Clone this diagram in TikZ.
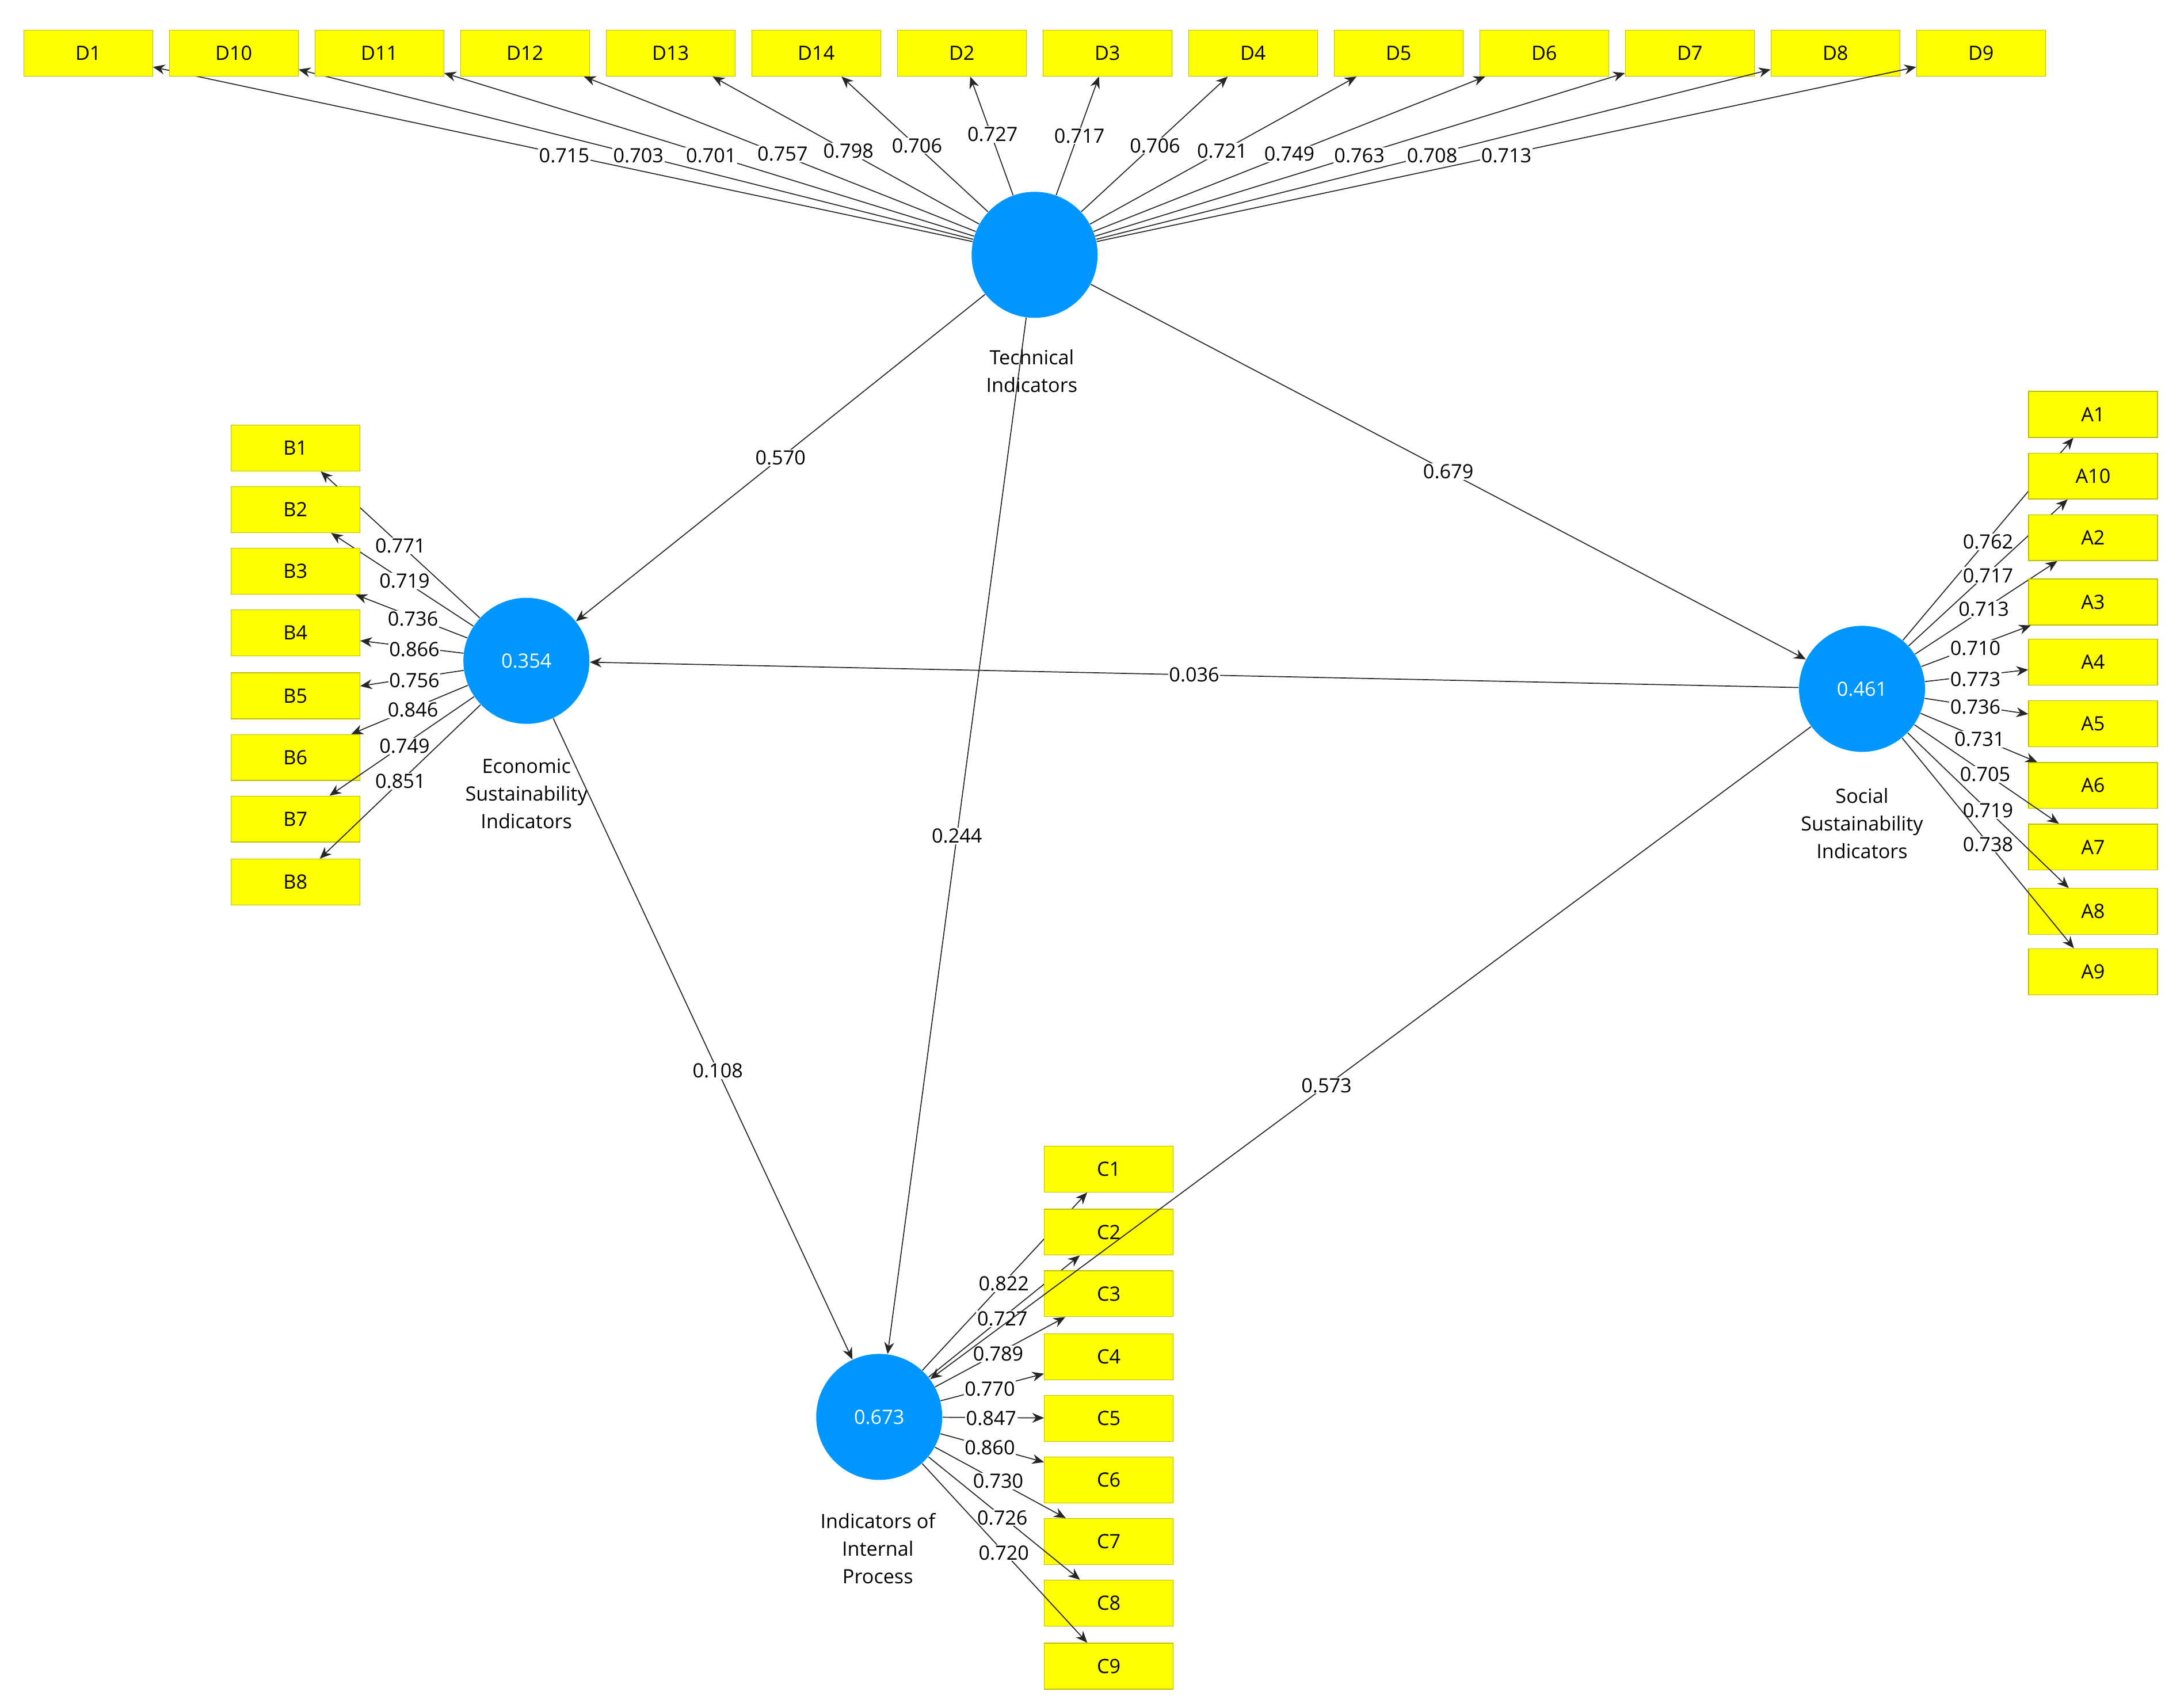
\documentclass[tikz,border=0pt]{standalone}
\usepackage{fontspec}
\setmainfont{Open Sans}
\usetikzlibrary{arrows.meta}
\definecolor{bx}{RGB}{255,255,0}
\definecolor{bxd}{RGB}{190,190,0}
\definecolor{lv}{RGB}{0,150,255}
\begin{document}
\begin{tikzpicture}[x=0.025cm,y=-0.025cm,
 box/.style={draw=bxd,fill=bx,minimum width=2.3cm,minimum height=0.82cm,inner sep=0pt,font=\fontsize{10}{12}\selectfont},
 lat/.style={circle,fill=lv,minimum size=2.25cm,inner sep=0pt,text=white,font=\fontsize{10}{12}\selectfont},
 captxt/.style={align=center,font=\fontsize{10}{14}\selectfont},
 lab/.style={fill=white,inner sep=0.5pt,font=\fontsize{10}{12}\selectfont},
 ar/.style={-{Stealth[length=6pt,width=5pt]},line width=0.5pt,draw=black!85}]
\useasboundingbox (0,0) rectangle (1560,1216);
\node[lat] (T) at (739,182) {};
\node[lat] (E) at (376,472) {0.354};
\node[lat] (S) at (1330,492) {0.461};
\node[lat] (I) at (628,1012) {0.673};
\node[captxt] (Tc) at (737,265) {Technical\\Indicators};
\node[captxt] (Ec) at (376,567) {Economic\\Sustainability\\Indicators};
\node[captxt] (Sc) at (1330,588) {Social\\Sustainability\\Indicators};
\node[captxt] (Ic) at (627,1106) {Indicators of\\Internal\\Process};
% D
\foreach \n/\x/\v/\lx/\ly in {D1/63/0.715/403/111,D10/167/0.703/456/111,D11/271/0.701/508/111,D12/375/0.757/559/110,D13/479/0.798/606/108,D14/583/0.706/655/104,D2/687/0.727/709/96,D3/791/0.717/771/97,D4/895/0.706/825/104,D5/999/0.721/873/108,D6/1103/0.749/921/110,D7/1207/0.763/971/111,D8/1311/0.708/1023/111,D9/1415/0.713/1076/111}{
 \node[box] (\n) at (\x,38) {\n};
 \draw[ar] (T) -- (\n);
 \node[lab] (l\n) at (\lx,\ly) {\v};
}
% B
\foreach \n/\y/\v/\lx/\ly in {B1/320/0.771/286/390,B2/364/0.719/289/415,B3/408/0.736/295/442,B4/452/0.866/296/464,B5/497/0.756/296/486,B6/541/0.846/295/507,B7/585/0.749/289/533,B8/630/0.851/286/558}{
 \node[box] (\n) at (211,\y) {\n};
 \draw[ar] (E) -- (\n);
 \node[lab] (l\n) at (\lx,\ly) {\v};
}
% A
\foreach \n/\y/\v/\lx/\ly in {A1/296/0.762/1420/387,A10/340/0.717/1420/411,A2/384/0.713/1417/435,A3/430/0.710/1411/463,A4/473/0.773/1411/485,A5/517/0.736/1411/505,A6/561/0.731/1414/528,A7/605/0.705/1418/553,A8/651/0.719/1420/579,A9/694/0.738/1420/603}{
 \node[box] (\n) at (1495,\y) {\n};
 \draw[ar] (S) -- (\n);
 \node[lab] (l\n) at (\lx,\ly) {\v};
}
% C
\foreach \n/\y/\v/\lx/\ly in {C1/835/0.822/717/917,C2/880/0.727/716/942,C3/924/0.789/713/967,C4/969/0.770/707/992,C5/1013/0.847/708/1013,C6/1057/0.860/707/1034,C7/1101/0.730/713/1058,C8/1145/0.726/716/1084,C9/1190/0.720/717/1109}{
 \node[box] (\n) at (792,\y) {\n};
 \draw[ar] (I) -- (\n);
 \node[lab] (l\n) at (\lx,\ly) {\v};
}
% structural
\draw[ar] (T) -- node[lab,pos=0.5] {0.570} (E);
\draw[ar] (T) -- node[lab,pos=0.5] {0.679} (S);
\draw[ar] (S) -- node[lab,pos=0.5] {0.036} (E);
\draw[ar] (T) -- node[lab,pos=0.5] {0.244} (I);
\draw[ar] (E) -- node[lab,pos=0.55] {0.108} (I);
\draw[ar] (S) -- node[lab,pos=0.55] {0.573} (I);
\end{tikzpicture}
\end{document}
